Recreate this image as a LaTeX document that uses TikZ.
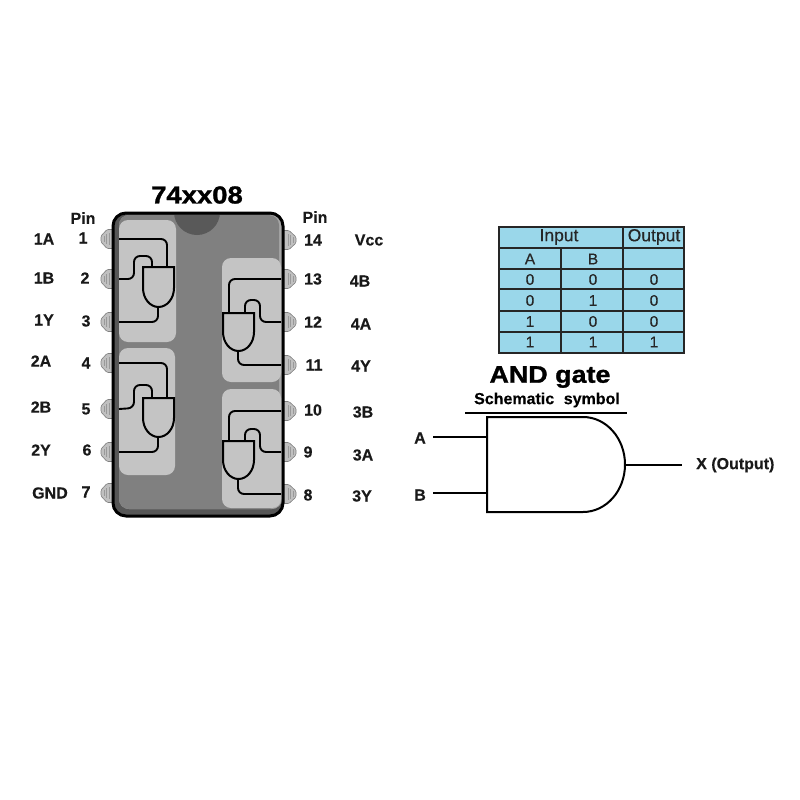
\documentclass[tikz,border=0pt]{standalone}
\usepackage{fontspec}
\setmainfont{Liberation Sans}
\newfontfamily\heavyfont{Liberation Sans}[BoldFeatures={FakeBold=1.2,FakeStretch=1.12}]
\newfontfamily\labfont{Liberation Sans}[BoldFeatures={FakeBold=0.3}]
\newfontfamily\cellfont{Liberation Sans}[UprightFeatures={FakeBold=0.4}]
\definecolor{chipdark}{HTML}{565656}
\definecolor{chipmid}{HTML}{808080}
\definecolor{chipedge}{HTML}{A6A6A6}
\definecolor{notchc}{HTML}{595959}
\definecolor{panelc}{HTML}{C4C4C4}
\definecolor{pinc}{HTML}{C0C0C0}
\definecolor{tablec}{HTML}{9AD7EA}
\tikzset{
  wire/.style={line width=1.9pt,black,rounded corners=6pt},
  gatebody/.style={line width=2pt,draw=black,fill=panelc},
  panelbox/.style={fill=panelc,rounded corners=9pt},
  pinpad/.style={fill=pinc,draw=chipmid,line width=.6pt,rounded corners=1.2pt},
  pinstripe/.style={draw=black!40,line width=.5pt},
  lab/.style={inner sep=0pt,font=\labfont\bfseries\fontsize{16}{16}\selectfont,text=black!90},
  tcell/.style={inner sep=0pt,font=\cellfont\fontsize{15.5}{16}\selectfont,text=black!85},
  thead/.style={inner sep=0pt,font=\cellfont\fontsize{17.5}{18}\selectfont,text=black!85},
  tline/.style={line width=2pt,black!85},
  sline/.style={line width=2pt,black},
}
\newcommand{\leftpin}[2]{%
  \path[pinpad] (114,#2-9.5) -- (107,#2-9.5) -- (101,#2-3) -- (101,#2+3) -- (107,#2+9.5) -- (114,#2+9.5) -- cycle;
  \draw[pinstripe] (104,#2-3) -- (104,#2+3) (106.5,#2-5) -- (106.5,#2+5) (109,#2-6) -- (109,#2+6);
  \coordinate (#1) at (119,#2);}
\newcommand{\rightpin}[2]{%
  \path[pinpad] (282,#2-9.5) -- (289,#2-9.5) -- (296,#2-3) -- (296,#2+3) -- (289,#2+9.5) -- (282,#2+9.5) -- cycle;
  \draw[pinstripe] (293,#2-3) -- (293,#2+3) (290.5,#2-5) -- (290.5,#2+5) (288,#2-6) -- (288,#2+6);
  \coordinate (#1) at (281,#2);}
\begin{document}
\begin{tikzpicture}[x=1pt,y=-1pt]
\useasboundingbox (0,0) rectangle (800,800);
\fill[white] (0,0) rectangle (800,800);

% pins
\leftpin{p1}{239} \leftpin{p2}{279} \leftpin{p3}{322} \leftpin{p4}{363}
\leftpin{p5}{409} \leftpin{p6}{452} \leftpin{p7}{493}
\rightpin{p14}{240} \rightpin{p13}{279} \rightpin{p12}{322} \rightpin{p11}{365}
\rightpin{p10}{411} \rightpin{p9}{452} \rightpin{p8}{494}

% chip body
\fill[chipdark,rounded corners=13pt] (113,213) rectangle (283,516);
\fill[chipedge,rounded corners=10pt] (119,215) rectangle (282,509);
\fill[chipmid,rounded corners=10pt] (119,215) rectangle (279,509);
\begin{scope}
  \clip (113,213) rectangle (283,300);
  \fill[notchc] (197,212) circle[radius=23];
\end{scope}
\draw[line width=3pt,rounded corners=13pt] (113,213) rectangle (283,516);

% panels
\fill[panelbox] (119,220) rectangle (176,342);
\fill[panelbox] (119,348) rectangle (175,475);
\fill[panelbox] (222,258) rectangle (281,382);
\fill[panelbox] (222,389) rectangle (281,508);

% gate 1
\draw[wire] (p1) -| (167,267);
\draw[wire] (p2) -- (134,279) -- (134,256) -- (152,256) -- (152,267);
\draw[gatebody] (143,267) -- (174,267) -- (174,288) arc[start angle=0,end angle=180,x radius=15.5,y radius=19] -- cycle;
\draw[wire] (158,307) |- (p3);
% gate 2
\draw[wire] (p4) -| (167,398);
\draw[wire] (p5) -- (134,408) -- (134,385) -- (152,385) -- (152,398);
\draw[gatebody] (143,398) -- (174,398) -- (174,418) arc[start angle=0,end angle=180,x radius=15.5,y radius=19] -- cycle;
\draw[wire] (158,437) |- (p6);
% gate 3
\draw[wire] (p13) -| (229,313);
\draw[wire] (p12) -- (260,322) -- (260,300) -- (245,300) -- (245,313);
\draw[gatebody] (223,313) -- (254,313) -- (254,332) arc[start angle=0,end angle=180,x radius=15.5,y radius=19] -- cycle;
\draw[wire] (238,351) |- (p11);
% gate 4
\draw[wire] (p10) -| (229,441);
\draw[wire] (p9) -- (260,452) -- (260,429) -- (245,429) -- (245,441);
\draw[gatebody] (223,441) -- (254,441) -- (254,460) arc[start angle=0,end angle=180,x radius=15.5,y radius=19] -- cycle;
\draw[wire] (238,479) |- (p8);

% chip labels
\node[inner sep=0pt,font=\heavyfont\bfseries\fontsize{24.5}{25}\selectfont] (title) at (197,195) {74xx08};
\node[lab] (pinl) at (83,218) {Pin};
\node[lab] (pinr) at (315,217) {Pin};
\node[lab] (n1a) at (44,239) {1A};
\node[lab] (n1b) at (44,278) {1B};
\node[lab] (n1y) at (44,320) {1Y};
\node[lab] (n2a) at (41,361) {2A};
\node[lab] (n2b) at (41,407) {2B};
\node[lab] (n2y) at (41,450) {2Y};
\node[lab] (ngnd) at (50,493) {GND};
\node[lab] (m1) at (83,238) {1};
\node[lab] (m2) at (85,278) {2};
\node[lab] (m3) at (86,321) {3};
\node[lab] (m4) at (86,363) {4};
\node[lab] (m5) at (86,409) {5};
\node[lab] (m6) at (87,450) {6};
\node[lab] (m7) at (86,492) {7};
\node[lab] (m14) at (313,240) {14};
\node[lab] (m13) at (313,279) {13};
\node[lab] (m12) at (313,322) {12};
\node[lab] (m11) at (314,365) {11};
\node[lab] (m10) at (313,410) {10};
\node[lab] (m9) at (308,452) {9};
\node[lab] (m8) at (308,495) {8};
\node[lab] (nvcc) at (369,240) {Vcc};
\node[lab] (n4b) at (360,281) {4B};
\node[lab] (n4a) at (361,324) {4A};
\node[lab] (n4y) at (361,366) {4Y};
\node[lab] (n3b) at (363,412) {3B};
\node[lab] (n3a) at (363,455) {3A};
\node[lab] (n3y) at (362,496) {3Y};

% truth table
\fill[tablec] (499,227) rectangle (684,353);
\draw[tline] (499,227) rectangle (684,353);
\foreach \yy in {248,269,289,311,332} \draw[tline] (499,\yy) -- (684,\yy);
\draw[tline] (561,248) -- (561,353);
\draw[tline] (623,227) -- (623,353);
\node[thead] (tinput) at (559,237) {Input};
\node[thead] (toutput) at (654,237) {Output};
\node[tcell] (ta) at (530,259) {A};
\node[tcell] (tb) at (593,259) {B};
\node[tcell] (r1a) at (530,279.5) {0};
\node[tcell] (r1b) at (593,279.5) {0};
\node[tcell] (r1x) at (654,279.5) {0};
\node[tcell] (r2a) at (530,300.5) {0};
\node[tcell] (r2b) at (593,300.5) {1};
\node[tcell] (r2x) at (654,300.5) {0};
\node[tcell] (r3a) at (530,321.5) {1};
\node[tcell] (r3b) at (593,321.5) {0};
\node[tcell] (r3x) at (654,321.5) {0};
\node[tcell] (r4a) at (530,342) {1};
\node[tcell] (r4b) at (593,342) {1};
\node[tcell] (r4x) at (654,342) {1};

% AND gate symbol
\node[inner sep=0pt,font=\heavyfont\bfseries\fontsize{24}{25}\selectfont] (andt) at (550,377) {AND gate};
\node[inner sep=0pt,font=\labfont\bfseries\fontsize{16}{16}\selectfont] (schem) at (547,400) {Schematic\hspace{.6em}symbol};
\coordinate (ruleL) at (465,413);
\coordinate (ruleR) at (627,413);
\draw[sline] (ruleL) -- (ruleR);
\draw[sline] (487,417) -- (583,417) arc[start angle=-90,end angle=90,x radius=42,y radius=47.5] -- (487,512) -- cycle;
\node[lab] (ina) at (420,438) {A};
\node[lab] (inb) at (420,495) {B};
\node[lab,anchor=west] (outx) at (696,465) {X (Output)};
\coordinate (gA) at (487,437);
\coordinate (gB) at (487,493);
\coordinate (gX) at (625,465);
\coordinate (endX) at (682,465);
\draw[sline] (433,437) -- (gA);
\draw[sline] (433,493) -- (gB);
\draw[sline] (gX) -- (endX);
\end{tikzpicture}
\end{document}
